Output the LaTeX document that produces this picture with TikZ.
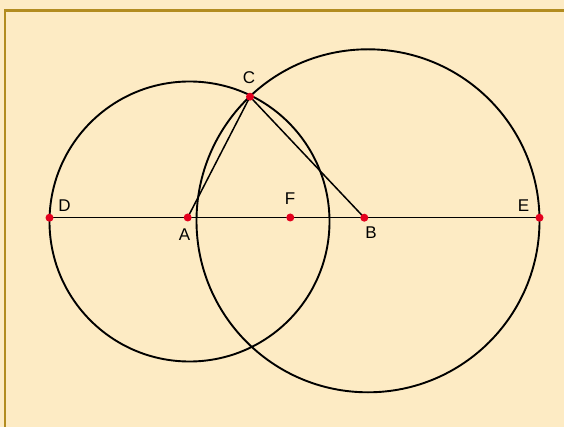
\documentclass[tikz,border=0pt]{standalone}
\usepackage{fontspec}
\setmainfont{Liberation Sans}
\definecolor{bgcream}{RGB}{253,235,196}
\definecolor{framegold}{RGB}{178,140,32}
\definecolor{dotred}{RGB}{228,0,30}
\tikzset{
  ptdot/.style={circle,fill=dotred,inner sep=0pt,minimum size=8pt},
  lbl/.style={inner sep=0pt,font=\fontsize{17}{17}\selectfont,text=black},
  circ/.style={line width=1.9pt,black},
  seg/.style={line width=1.5pt,black}
}
\begin{document}
\begin{tikzpicture}[x=1pt,y=-1pt]
\fill[bgcream] (0,0) rectangle (564,427);
\useasboundingbox (0,0) rectangle (564,427);
\draw[framegold,line width=2.2pt] (5,440) -- (5,10.5) -- (580,10.5);
% points
\coordinate (D) at (49.5,217.7);
\coordinate (A) at (187.7,217.5);
\coordinate (F) at (290.3,217.5);
\coordinate (B) at (364.3,217.7);
\coordinate (E) at (539.5,217.7);
\coordinate (C) at (250,96.7);
\coordinate (cA) at (189.5,221.5);
\coordinate (cB) at (368,220.8);
% circles
\draw[circ] (cA) circle[radius=140];
\draw[circ] (cB) circle[radius=171.5];
% segments
\draw[seg] (D) -- (E);
\draw[seg] (A) -- (C) -- (B);
% dots
\foreach \p in {D,A,F,B,E,C} \node[ptdot] (dot\p) at (\p) {};
% labels
\node[lbl] (lC) at (249,77.5) {C};
\node[lbl] (lD) at (64.5,206) {D};
\node[lbl] (lA) at (184.5,235) {A};
\node[lbl] (lF) at (290,198.5) {F};
\node[lbl] (lB) at (371,232.5) {B};
\node[lbl] (lE) at (523.5,205.5) {E};
\end{tikzpicture}
\end{document}
